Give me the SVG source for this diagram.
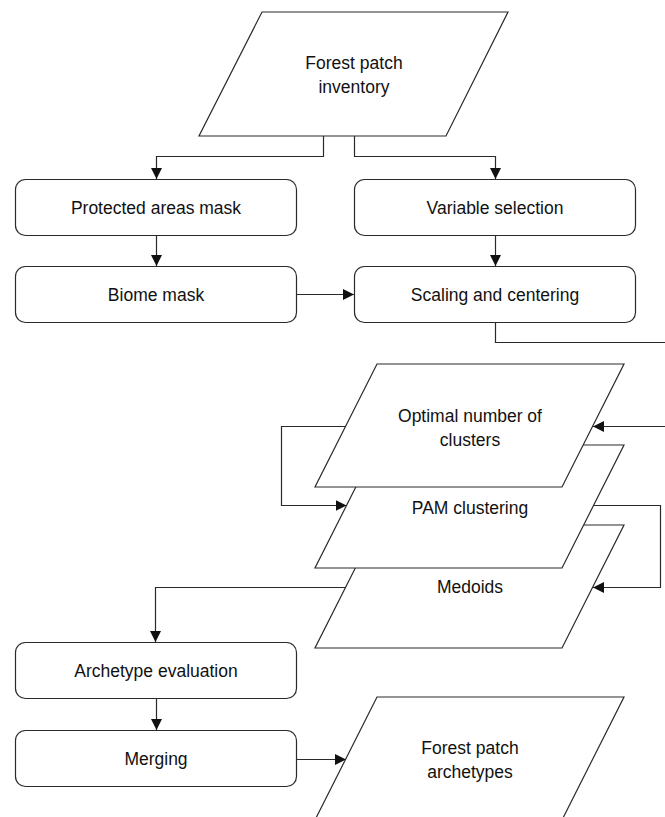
<svg xmlns="http://www.w3.org/2000/svg" width="665" height="817" viewBox="0 0 665 817">
  <defs>
    <style>
      .box { fill: #ffffff; stroke: #2a2a2a; stroke-width: 1.2; }
      .para { fill: #ffffff; stroke: #2a2a2a; stroke-width: 1.2; }
      .lbl { font-family: "Liberation Sans", Arial, sans-serif; font-size: 17.5px; fill: #111111; text-anchor: middle; }
      .conn { fill: none; stroke: #2a2a2a; stroke-width: 1.2; marker-end: url(#arrow); }
      .plain { fill: none; stroke: #2a2a2a; stroke-width: 1.2; }
    </style>
    <marker id="arrow" markerUnits="userSpaceOnUse" markerWidth="11" markerHeight="11" refX="11" refY="5.5" orient="auto">
      <path d="M0,0 L11,5.5 L0,11 Z" fill="#111111"/>
    </marker>
  </defs>

  <g id="forest-patch-inventory">
    <polygon class="para" points="262,12 508,12 446,136 199,136"/>
    <text class="lbl" x="354" y="68.5">Forest patch</text>
    <text class="lbl" x="354" y="93">inventory</text>
  </g>

  <g id="protected-areas-mask">
    <rect class="box" x="15.5" y="179.5" width="281" height="56" rx="10" ry="10"/>
    <text class="lbl" x="156" y="214">Protected areas mask</text>
  </g>

  <g id="variable-selection">
    <rect class="box" x="354.5" y="179.5" width="281" height="56" rx="10" ry="10"/>
    <text class="lbl" x="495" y="214">Variable selection</text>
  </g>

  <g id="biome-mask">
    <rect class="box" x="15.5" y="266.5" width="281" height="56" rx="10" ry="10"/>
    <text class="lbl" x="156" y="301">Biome mask</text>
  </g>

  <g id="scaling-and-centering">
    <rect class="box" x="354.5" y="266.5" width="281" height="56" rx="10" ry="10"/>
    <text class="lbl" x="495" y="301">Scaling and centering</text>
  </g>

  <g id="medoids">
    <polygon class="para" points="377,525 624,525 562,648 315,648"/>
    <text class="lbl" x="470" y="593">Medoids</text>
  </g>

  <g id="pam-clustering">
    <polygon class="para" points="377,445 624,445 562,568 315,568"/>
    <text class="lbl" x="470" y="513.5">PAM clustering</text>
  </g>

  <g id="optimal-number-of-clusters">
    <polygon class="para" points="377,364 624,364 562,487 315,487"/>
    <text class="lbl" x="470" y="421.5">Optimal number of</text>
    <text class="lbl" x="470" y="445.5">clusters</text>
  </g>

  <g id="archetype-evaluation">
    <rect class="box" x="15.5" y="642.5" width="281" height="56" rx="10" ry="10"/>
    <text class="lbl" x="156" y="677">Archetype evaluation</text>
  </g>

  <g id="merging">
    <rect class="box" x="15.5" y="730.5" width="281" height="56" rx="10" ry="10"/>
    <text class="lbl" x="156" y="765">Merging</text>
  </g>

  <g id="forest-patch-archetypes">
    <polygon class="para" points="377,697 624,697 562,820 315,820"/>
    <text class="lbl" x="470" y="754">Forest patch</text>
    <text class="lbl" x="470" y="778">archetypes</text>
  </g>

  <g id="connectors">
    <path class="conn" d="M323.5,136 V156.5 H156.5 V179"/>
    <path class="conn" d="M354.5,136 V156.5 H495.5 V179"/>
    <path class="conn" d="M156.5,236 V266"/>
    <path class="conn" d="M495.5,236 V266"/>
    <path class="conn" d="M297,294.5 H354"/>
    <path class="conn" d="M495.5,323 V342.5 H667 V426.5 H593"/>
    <path class="conn" d="M345.5,426.5 H281.5 V505.5 H346.5"/>
    <path class="conn" d="M593.5,505.5 H660.5 V587.5 H593"/>
    <path class="conn" d="M345.5,587.5 H155.5 V642"/>
    <path class="conn" d="M156.5,699 V730"/>
    <path class="conn" d="M297,759.5 H346"/>
  </g>
</svg>
